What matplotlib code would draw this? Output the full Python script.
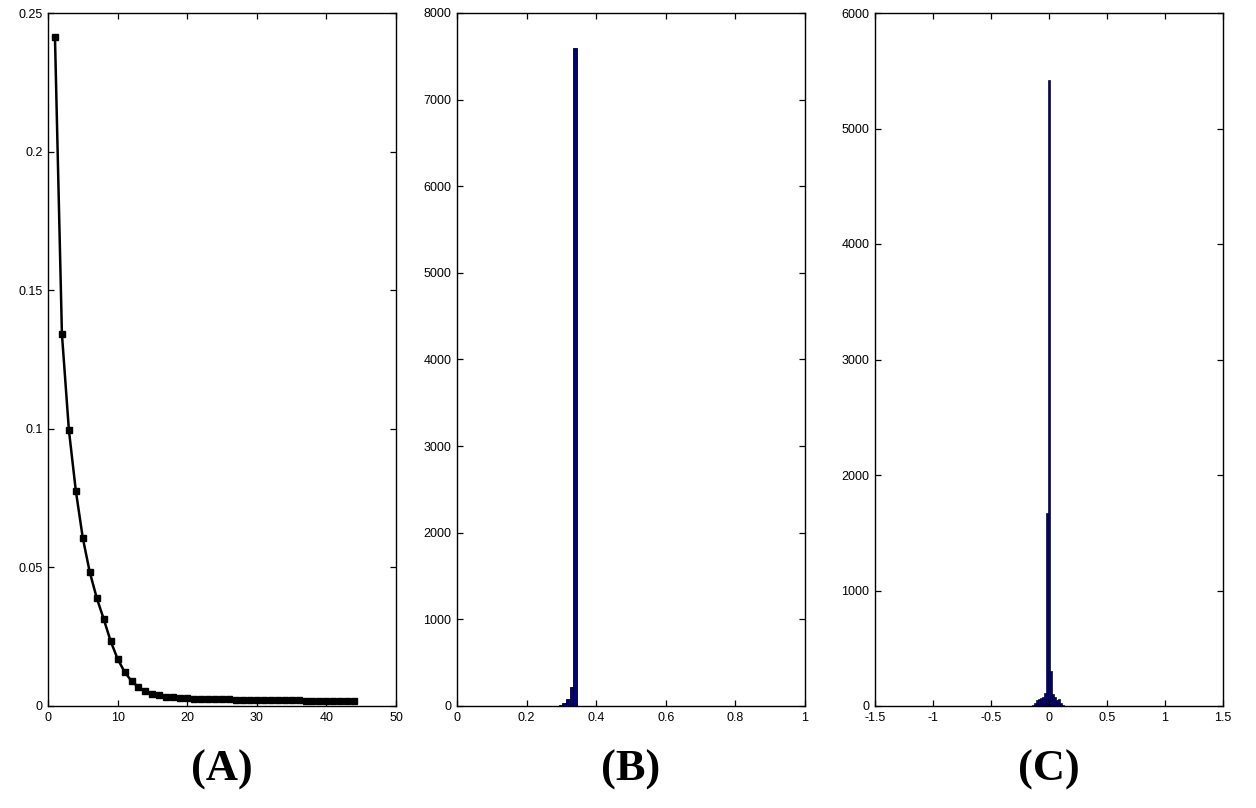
import matplotlib
matplotlib.use("Agg")
import matplotlib.pyplot as plt
from matplotlib.ticker import FormatStrFormatter

# ---- Panel A data ----
a_x = list(range(1, 45))
a_y = [0.2413, 0.1342, 0.0996, 0.0776, 0.0606, 0.0483, 0.0390, 0.0314, 0.0234, 0.0170,
       0.0123, 0.0090, 0.0068, 0.0053, 0.0045, 0.0038, 0.0034, 0.0031, 0.0029, 0.0028,
       0.0027, 0.0026, 0.0025, 0.0025, 0.0024, 0.0024, 0.0023, 0.0023, 0.0022, 0.0022,
       0.0021, 0.0021, 0.0021, 0.0020, 0.0020, 0.0020, 0.0019, 0.0019, 0.0019, 0.0019,
       0.0018, 0.0018, 0.0018, 0.0018]

# ---- Panel B data (histogram bins) ----
b_centers = [0.2975, 0.3080, 0.3185, 0.3290, 0.3395]
b_counts = [8, 30, 80, 220, 7600]
b_width = 0.0105

# ---- Panel C data (histogram bins) ----
c_centers = [-0.1574, -0.1402, -0.1230, -0.1058, -0.0886, -0.0714, -0.0542, -0.0370,
             -0.0198, -0.0026, 0.0146, 0.0318, 0.0490, 0.0662, 0.0834, 0.1006, 0.1178]
c_counts = [3, 12, 29, 52, 63, 72, 80, 110, 1670, 5420, 300, 104, 75, 52, 58, 23, 6]
c_width = 0.0172

a_xticks = [0, 10, 20, 30, 40, 50]
a_yticks = [0, 0.05, 0.1, 0.15, 0.2, 0.25]
b_xticks = [0, 0.2, 0.4, 0.6, 0.8, 1]
b_yticks = [0, 1000, 2000, 3000, 4000, 5000, 6000, 7000, 8000]
c_xticks = [-1.5, -1, -0.5, 0, 0.5, 1, 1.5]
c_yticks = [0, 1000, 2000, 3000, 4000, 5000, 6000]
panel_labels = ["(A)", "(B)", "(C)"]

W, H = 1256, 808
fig = plt.figure(figsize=(W / 100, H / 100), dpi=100)

lefts = [48, 457, 875]
axw = 348
top, bottom = 13, 706

axes = []
for l in lefts:
    ax = fig.add_axes([l / W, 1 - bottom / H, axw / W, (bottom - top) / H])
    axes.append(ax)

def style(ax, xt, yt, xl, yl):
    ax.set_xlim(*xl)
    ax.set_ylim(*yl)
    ax.set_xticks(xt)
    ax.set_yticks(yt)
    ax.xaxis.set_major_formatter(FormatStrFormatter('%g'))
    ax.yaxis.set_major_formatter(FormatStrFormatter('%g'))
    ax.tick_params(direction='in', length=4.5, width=0.9, top=True, right=True,
                   labelsize=9, pad=4, colors='black')
    for lab in ax.get_xticklabels() + ax.get_yticklabels():
        lab.set_fontfamily('Liberation Sans')
    for s in ax.spines.values():
        s.set_linewidth(1.0)
        s.set_color('black')

axA, axB, axC = axes
axA.plot(a_x, a_y, color='black', lw=1.8, marker='s', markersize=4.2,
         markerfacecolor='black', markeredgecolor='black')
style(axA, a_xticks, a_yticks, (0, 50), (0, 0.25))

axB.bar(b_centers, b_counts, width=b_width, color='#00008F', edgecolor='black', linewidth=0.6)
style(axB, b_xticks, b_yticks, (0, 1), (0, 8000))

axC.bar(c_centers, c_counts, width=c_width, color='#00008F', edgecolor='black', linewidth=0.45)
style(axC, c_xticks, c_yticks, (-1.5, 1.5), (0, 6000))

for l, lab in zip(lefts, panel_labels):
    fig.text((l + axw / 2) / W, 1 - 770 / H, lab, ha='center', va='center',
             fontsize=32, fontweight='bold', family='Liberation Serif')

fig.savefig('out.png', dpi=100, facecolor='white')
